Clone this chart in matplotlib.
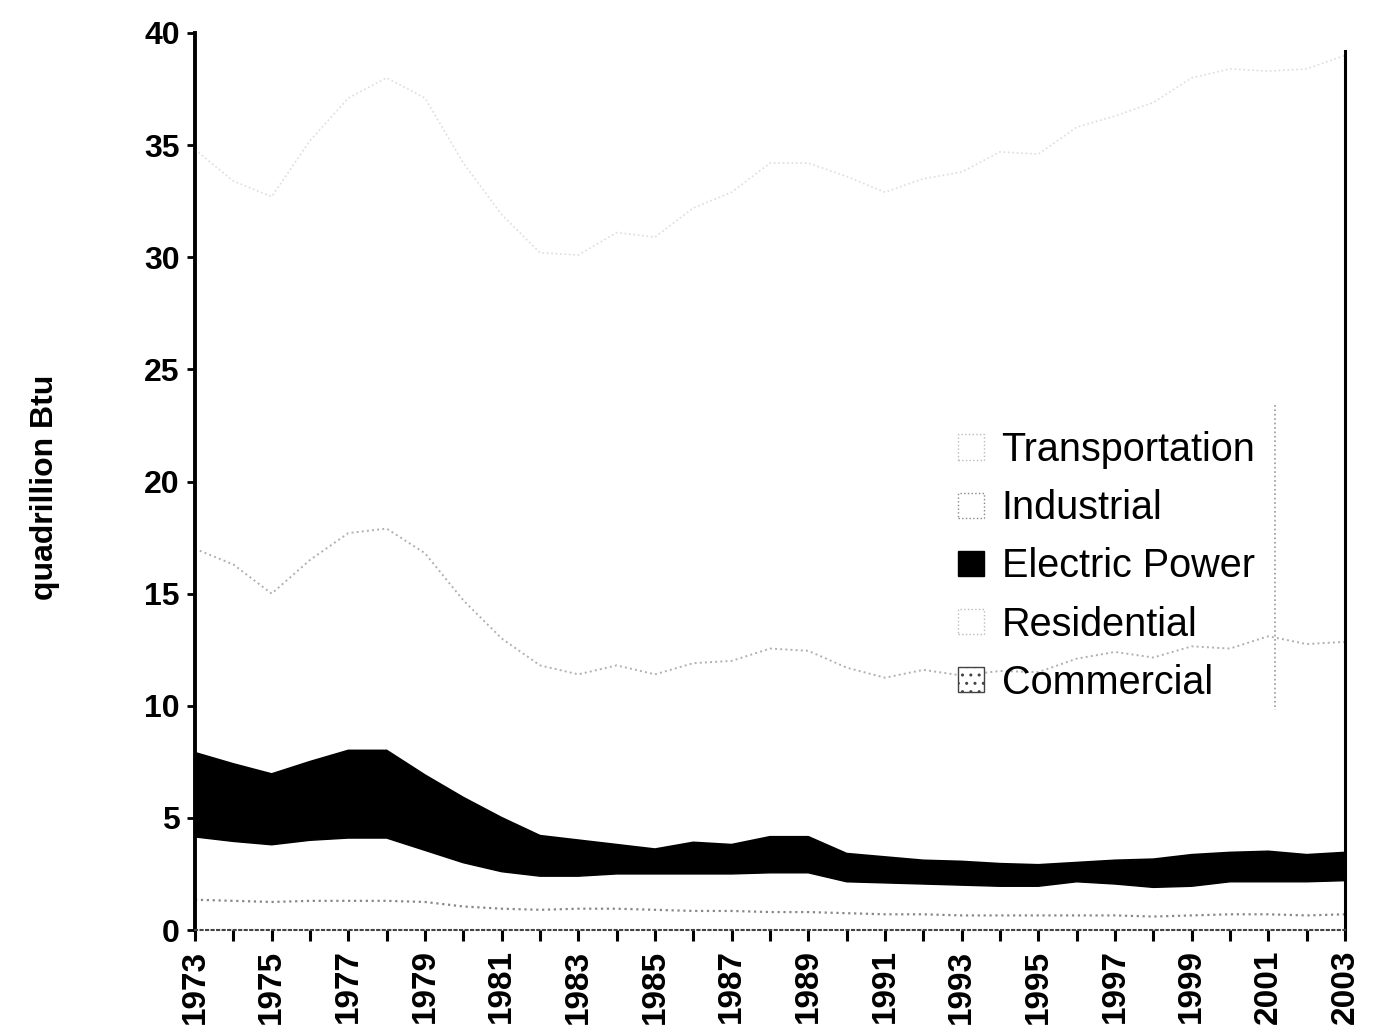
import numpy as np
import matplotlib
matplotlib.use("Agg")
import matplotlib.pyplot as plt
from matplotlib.patches import Patch
from matplotlib.lines import Line2D

plt.rcParams['font.family'] = ['Liberation Sans', 'DejaVu Sans']

years = list(range(1973, 2004))
commercial = [1.35, 1.30, 1.25, 1.30, 1.30, 1.30, 1.25, 1.05, 0.95, 0.90, 0.95, 0.95, 0.90, 0.85, 0.85,
              0.80, 0.80, 0.75, 0.70, 0.70, 0.65, 0.65, 0.65, 0.65, 0.65, 0.60, 0.65, 0.70, 0.70, 0.65, 0.70]
residential = [2.80, 2.65, 2.55, 2.70, 2.80, 2.80, 2.30, 1.95, 1.65, 1.50, 1.45, 1.55, 1.60, 1.65, 1.65,
               1.75, 1.75, 1.40, 1.40, 1.35, 1.35, 1.30, 1.30, 1.50, 1.40, 1.30, 1.30, 1.45, 1.45, 1.50, 1.50]
electric_power = [3.75, 3.45, 3.15, 3.50, 3.90, 3.90, 3.35, 2.90, 2.40, 1.80, 1.60, 1.30, 1.10, 1.40, 1.30,
                  1.60, 1.60, 1.25, 1.15, 1.05, 1.05, 1.00, 0.95, 0.85, 1.05, 1.25, 1.40, 1.30, 1.35, 1.20, 1.25]
industrial = [9.1, 8.9, 8.05, 9.0, 9.7, 9.9, 9.9, 8.8, 8.0, 7.6, 7.4, 8.0, 7.8, 8.0, 8.2,
              8.4, 8.3, 8.3, 8.0, 8.5, 8.3, 8.6, 8.6, 9.1, 9.3, 9.0, 9.3, 9.1, 9.6, 9.4, 9.4]
transportation = [17.8, 17.1, 17.7, 18.7, 19.4, 20.1, 20.3, 19.5, 18.9, 18.4, 18.7, 19.3, 19.5, 20.3, 20.9,
                  21.65, 21.75, 21.9, 21.65, 21.9, 22.45, 23.15, 23.1, 23.7, 23.9, 24.75, 25.35, 25.85, 25.2, 25.65, 26.15]
series_names = ["Commercial", "Residential", "Electric Power", "Industrial", "Transportation"]
xtick_labels = [str(y) for y in years[::2]]
yticks = list(range(0, 45, 5))

fig = plt.figure(figsize=(13.8, 10.34), dpi=100)
ax = fig.add_axes([195/1380, 1-930/1034, 1150/1380, 897/1034])

data = np.array([commercial, residential, electric_power, industrial, transportation])
colors = ["white", "white", "black", "white", "white"]
ax.stackplot(years, data, colors=colors, linewidth=0)

cum = np.cumsum(data, axis=0)
line_styles = [("#888888", ":", 1.6), ("black", "-", 1.0), ("black", "-", 1.5),
               ("#b0b0b0", ":", 1.4), ("#dddddd", ":", 1.2)]
for top, (c, ls, lw) in zip(cum, line_styles):
    ax.plot(years, top, color=c, linestyle=ls, linewidth=lw)

ax.set_xlim(1973, 2003)
ax.set_ylim(0, 40)

ax.set_xticks(years[::2])
ax.set_xticklabels(xtick_labels, rotation=90, fontsize=24, fontweight='bold')
ax.set_xticks(years, minor=True)
ax.tick_params(axis='x', which='both', direction='out', length=8, width=2.2, pad=6)

ax.set_yticks(yticks)
ax.set_yticklabels([str(v) for v in yticks], fontsize=23, fontweight='bold')
ax.tick_params(axis='y', direction='out', length=6, width=2, pad=5)

ax.spines['top'].set_visible(False)
ax.spines['left'].set_linewidth(2.8)
ax.spines['right'].set_linewidth(2.2)
ax.spines['right'].set_bounds(0, 39.2)
ax.spines['bottom'].set_color('#444444')
ax.spines['bottom'].set_linestyle(':')
ax.spines['bottom'].set_linewidth(1.5)

fig.text(45/1380, 1-487/1034, "quadrillion Btu", rotation=90, ha='center', va='center',
         fontsize=23, fontweight='bold')

handles = [
    Patch(facecolor='white', edgecolor='#bbbbbb', linestyle=':', label="Transportation"),
    Patch(facecolor='white', edgecolor='#888888', linestyle=':', label="Industrial"),
    Patch(facecolor='black', edgecolor='black', label="Electric Power"),
    Patch(facecolor='white', edgecolor='#bbbbbb', linestyle=':', label="Residential"),
    Patch(facecolor='white', edgecolor='#444444', hatch='..', label="Commercial"),
]
leg = fig.legend(handles=handles, loc='upper left', bbox_to_anchor=(958/1380, 1-431/1034),
                 frameon=False, fontsize=28.5, handlelength=0.65, handleheight=0.6,
                 handletextpad=0.45, labelspacing=0.51, borderpad=0, borderaxespad=0)

fig.add_artist(Line2D([1275/1380, 1275/1380], [1-405/1034, 1-710/1034], transform=fig.transFigure,
                      color='#999999', linestyle=':', linewidth=1.2))

fig.savefig("out.png", dpi=100, facecolor='white')
